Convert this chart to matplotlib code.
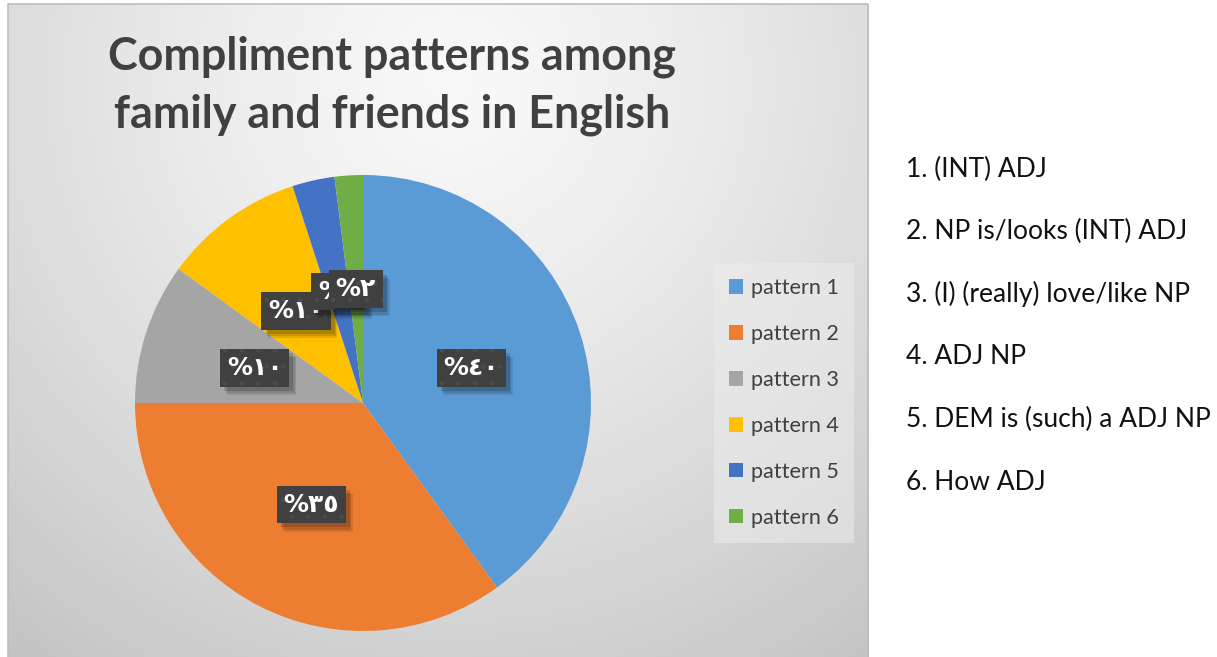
import numpy as np
import matplotlib
matplotlib.use("Agg")
import matplotlib.pyplot as plt
import matplotlib.patheffects as pe

# ---- data -------------------------------------------------------------
patterns = ["pattern 1", "pattern 2", "pattern 3", "pattern 4", "pattern 5", "pattern 6"]
shares = [40, 35, 10, 10, 3, 2]
colors = ["#5B9BD5", "#ED7D31", "#A5A5A5", "#FFC000", "#4472C4", "#70AD47"]
title_lines = ["Compliment patterns among", "family and friends in English"]
pattern_key = [
    "1. (INT) ADJ",
    "2. NP is/looks (INT) ADJ",
    "3. (I) (really) love/like NP",
    "4. ADJ NP",
    "5. DEM is (such) a ADJ NP",
    "6. How ADJ",
]

W, H = 1217, 657
fig = plt.figure(figsize=(W / 100, H / 100), dpi=100)
fig.patch.set_facecolor("white")
renderer = fig.canvas.get_renderer()

MAIN = "Lato"


def fx(px):
    return px / W


def fy(py):
    return 1 - py / H


def size_for(text, target_px, **kw):
    t = fig.text(0, 0, text, fontsize=20, **kw)
    w = t.get_window_extent(renderer).width
    t.remove()
    return 20 * target_px / w


class BoxShadow(pe.AbstractPathEffect):
    """Plain dark offset copy of a patch, drawn without its hatch."""

    def __init__(self, offset, alpha):
        super().__init__(offset)
        self.alpha = alpha

    def draw_path(self, renderer, gc, tpath, affine, rgbFace=None):
        gc0 = renderer.new_gc()
        gc0.copy_properties(gc)
        gc0.set_hatch(None)
        gc0.set_linewidth(0)
        gc0.set_alpha(self.alpha)
        renderer.draw_path(gc0, tpath, affine + self._offset_transform(renderer),
                           (0, 0, 0))
        gc0.restore()


# ---- chart area with soft radial shading ----------------------------------
x0, x1, y0, y1 = 8, 868, 4, 657
bg = fig.add_axes([fx(x0), fy(y1), fx(x1 - x0), (y1 - y0) / H])
bg.set_axis_off()
gx, gy = np.meshgrid(np.arange(x0, x1), np.arange(y0, y1))
d = np.hypot(gx - 450, gy - 80) / 700.0
v = np.clip(0.975 - 0.2 * np.clip(d, 0, 1.2) ** 1.3, 0, 1)
bg.imshow(np.dstack([v, v, v]), aspect="auto", interpolation="bilinear",
          extent=(0, 1, 0, 1))
bg.set_xlim(0, 1)
bg.set_ylim(0, 1)
bg.plot([0, 0, 1, 1], [0, 1, 1, 0], color="#bdbdbd", lw=1.2,
        transform=bg.transAxes, clip_on=False)

# ---- title ----------------------------------------------------------------
tsize = size_for(title_lines[0], 569, family=MAIN, weight="bold")
for line, base in zip(title_lines, [70, 127]):
    fig.text(fx(392), fy(base), line, ha="center", va="baseline",
             fontsize=tsize, family=MAIN, weight="bold", color="#404040")

# ---- pie ------------------------------------------------------------------
cx, cy, R = 363, 403, 228
ax = fig.add_axes([fx(cx - R), fy(cy + R), fx(2 * R), 2 * R / H])

arabic_digits = str.maketrans("0123456789", "٠١٢٣٤٥٦٧٨٩")


def pct_label(p):
    return "%" + str(int(round(p))).translate(arabic_digits)


wedges, _, autotexts = ax.pie(
    shares, colors=colors, startangle=90, counterclock=False,
    autopct=pct_label, pctdistance=0.5,
    wedgeprops=dict(linewidth=0),
    textprops=dict(color="white", fontsize=18, fontweight="bold",
                   family=["DejaVu Sans"]),
)
ax.set_xlim(-1, 1)
ax.set_ylim(-1, 1)

for t in autotexts:
    t.set_bbox(dict(boxstyle="square,pad=0.27", facecolor="#404040",
                    edgecolor="#4b4b4b", linewidth=0, hatch="."))
    t.get_bbox_patch().set_path_effects([
        BoxShadow((5, -6), 0.10),
        BoxShadow((4, -5), 0.12),
        BoxShadow((3, -3), 0.15),
        pe.Normal(),
    ])

# ---- legend ---------------------------------------------------------------
lsize = size_for("pattern 1", 88, family=MAIN)
leg = ax.legend(
    wedges, patterns, loc="center",
    bbox_to_anchor=(fx(784), fy(403)), bbox_transform=fig.transFigure,
    prop=dict(family=MAIN, size=lsize), labelcolor="#404040",
    frameon=True, fancybox=False, framealpha=0.55, facecolor="#ececec",
    edgecolor="none", handlelength=0.65, handleheight=0.65, handletextpad=0.4,
    labelspacing=1.2, borderpad=0.7,
)

# ---- key to the patterns --------------------------------------------------
ksize = size_for(pattern_key[4], 306, family=MAIN)
for i, line in enumerate(pattern_key):
    fig.text(fx(906), fy(177 + 62.5 * i), line, ha="left", va="baseline",
             fontsize=ksize, family=MAIN, color="#111111")

fig.savefig("out.png", dpi=100, facecolor="white")
